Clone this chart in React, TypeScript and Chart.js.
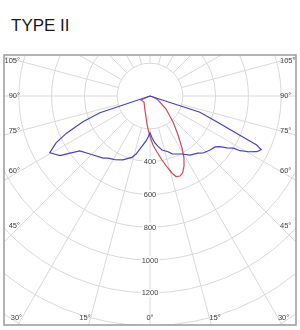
import React, { useEffect, useRef } from "react";
import { Chart, registerables } from "chart.js";

Chart.register(...registerables);

const title = "TYPE II";

// C0-C180 plane (blue): signed angle from nadir (negative = left side), intensity (cd)
const blueAngles = [-90, -71.5, -69, -66, -63.5, -60.5, -56.5, -54.5, -52, -46, -37, -34, -29, -23, -16.5, -13.5, -9.3, -5, -2.4, 0, 3, 6, 9.3, 12.5, 18, 21, 28.7, 34, 40, 43, 48, 52, 54, 56, 58, 58.7, 60.5, 62.5, 64.3, 65.3, 66.1, 68.9, 72, 90];
const blueValues = [0, 322, 438, 557, 640, 702, 658, 599, 543, 509, 474, 457, 443, 423, 390, 364, 313, 275, 248, 224, 258, 288, 313, 337, 357, 378, 403, 435, 454, 475, 492, 504, 526, 566, 600, 642, 690, 735, 752, 716, 622, 436, 320, 0];

// C90-C270 plane (red)
const redAngles = [-90, -66, -45, -19.7, -10.8, -6.1, -2.5, 0.7, 3.5, 7.1, 10.6, 13.5, 15.9, 17.9, 20.6, 22.9, 25.9, 28.7, 31.6, 35.7, 41.5, 50.9, 63.4, 71.6, 90];
const redValues = [0, 60, 52, 91, 130, 172, 214, 256, 299, 344, 397, 445, 488, 516, 521, 510, 475, 431, 372, 293, 212, 126, 55, 19, 0];

const ringValues = [200, 400, 600, 800, 1000, 1200, 1400, 1600, 1800, 2000, 2200];
const ringLabels = [400, 600, 800, 1000, 1200];
const spokeAngles = [0, 15, 30, 45, 60, 75, 90, 105, 120, 135, 150, 165, 180, 195, 210, 225, 240, 255, 270, 285, 300, 315, 330, 345];
const angleLabels = [0, 15, 30, 45, 60, 75, 90, 105];

const X_MIN = -890, X_MAX = 890, Y_MIN = -250, Y_MAX = 1396;

function toXY(angles: number[], values: number[]) {
  return angles.map((a, i) => {
    const t = (a * Math.PI) / 180;
    return { x: values[i] * Math.sin(t), y: values[i] * Math.cos(t) };
  });
}

const FONT = '"Liberation Sans", Arial, sans-serif';

const polarGrid = {
  id: "polarGrid",
  beforeDatasetsDraw(chart: any) {
    const { ctx, chartArea: a, scales } = chart;
    const xs = scales.x, ys = scales.y;
    const cx = xs.getPixelForValue(0), cy = ys.getPixelForValue(0);
    ctx.save();
    ctx.beginPath();
    ctx.rect(a.left, a.top, a.right - a.left, a.bottom - a.top);
    ctx.clip();
    ctx.strokeStyle = "#d9d9d9";
    ctx.lineWidth = 1;
    for (const v of ringValues) {
      const r = xs.getPixelForValue(v) - cx;
      ctx.beginPath();
      ctx.arc(cx, cy, r, 0, Math.PI * 2);
      ctx.stroke();
    }
    const r0 = ringValues[0], r1 = ringValues[ringValues.length - 1];
    for (const ang of spokeAngles) {
      const t = (ang * Math.PI) / 180;
      ctx.beginPath();
      ctx.moveTo(xs.getPixelForValue(r0 * Math.sin(t)), ys.getPixelForValue(r0 * Math.cos(t)));
      ctx.lineTo(xs.getPixelForValue(r1 * Math.sin(t)), ys.getPixelForValue(r1 * Math.cos(t)));
      ctx.stroke();
    }
    ctx.font = `7.5px ${FONT}`;
    ctx.textBaseline = "middle";
    ctx.textAlign = "center";
    for (const v of ringLabels) {
      const py = ys.getPixelForValue(v);
      const w = ctx.measureText(String(v)).width;
      ctx.fillStyle = "#ffffff";
      ctx.fillRect(cx - w / 2 - 1, py - 4, w + 2, 8);
      ctx.fillStyle = "#404040";
      ctx.fillText(String(v), cx, py + 0.5);
    }
    const leftB = a.left + 16, rightB = a.right - 16, botB = a.bottom - 7.5;
    for (const ang of angleLabels) {
      const sides = ang === 0 ? [0] : [-1, 1];
      for (const s of sides) {
        const t = (ang * Math.PI) / 180;
        const dx = s * Math.sin(t), dy = Math.cos(t);
        let tt = Infinity;
        if (dx > 1e-6) tt = Math.min(tt, (rightB - cx) / dx);
        if (dx < -1e-6) tt = Math.min(tt, (leftB - cx) / dx);
        if (dy > 1e-6) tt = Math.min(tt, (botB - cy) / dy);
        const px = cx + dx * tt, py = cy + dy * tt;
        ctx.textAlign = s < 0 ? "right" : s > 0 ? "left" : "center";
        ctx.fillStyle = "#404040";
        ctx.fillText(`${ang}°`, px, py);
      }
    }
    ctx.restore();
  },
  afterDraw(chart: any) {
    const { ctx, chartArea: a } = chart;
    ctx.save();
    ctx.strokeStyle = "#9a9a9a";
    ctx.lineWidth = 1.5;
    ctx.strokeRect(a.left, a.top, a.right - a.left, a.bottom - a.top);
    ctx.restore();
  },
};

export default function App() {
  const ref = useRef<HTMLCanvasElement | null>(null);
  useEffect(() => {
    if (!ref.current) return;
    const chart = new Chart(ref.current, {
      type: "scatter",
      data: {
        datasets: [
          {
            label: "C0-C180",
            data: toXY(blueAngles, blueValues),
            showLine: true,
            borderColor: "#4444c0",
            borderWidth: 1.2,
            pointRadius: 0,
            tension: 0,
          },
          {
            label: "C90-C270",
            data: toXY(redAngles, redValues),
            showLine: true,
            borderColor: "#cc4a5c",
            borderWidth: 1.2,
            pointRadius: 0,
            tension: 0,
          },
        ],
      },
      options: {
        animation: false,
        responsive: false,
        maintainAspectRatio: false,
        layout: { padding: { left: 4, right: 4, top: 5, bottom: 5 } },
        plugins: { legend: { display: false }, tooltip: { enabled: false }, title: { display: false } },
        scales: {
          x: { type: "linear", min: X_MIN, max: X_MAX, display: false },
          y: { type: "linear", min: Y_MIN, max: Y_MAX, reverse: true, display: false },
        },
      },
      plugins: [polarGrid],
    });
    return () => chart.destroy();
  }, []);
  return (
    <div style={{ position: "fixed", left: 0, top: 0, width: 300, height: 330, background: "#fff" }}>
      <div
        style={{
          position: "absolute",
          left: 11,
          top: 16,
          fontFamily: FONT,
          fontSize: 17,
          lineHeight: "20px",
          color: "#1a1a1a",
        }}
      >
        {title}
      </div>
      <canvas ref={ref} width={300} height={280} style={{ position: "absolute", left: 0, top: 50, width: 300, height: 280 }} />
    </div>
  );
}
